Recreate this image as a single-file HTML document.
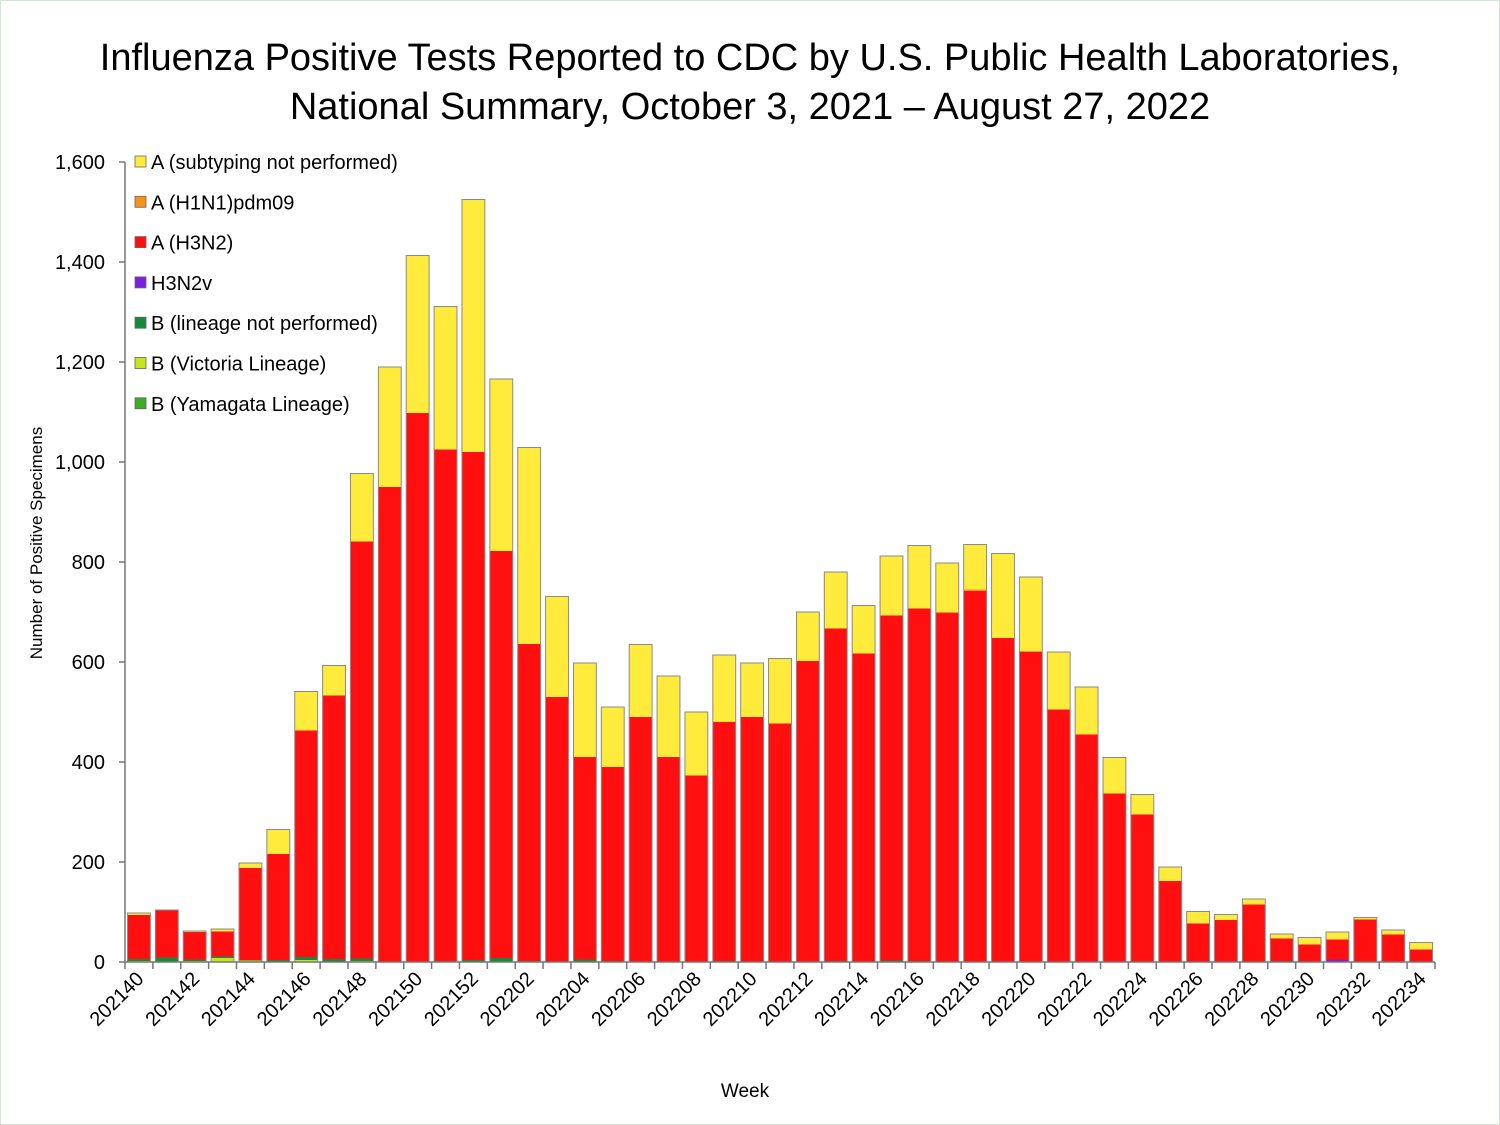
<!DOCTYPE html>
<html><head><meta charset="utf-8"><style>
body{margin:0;background:#fff;}
svg{display:block;font-family:"Liberation Sans",sans-serif;}
</style></head><body>
<svg id="chart" width="1500" height="1125" viewBox="0 0 1500 1125">
<rect x="0.5" y="0.5" width="1499" height="1124" fill="#fff" stroke="#cfe6cf"/>
<text x="750" y="70" text-anchor="middle" font-size="38">Influenza Positive Tests Reported to CDC by U.S. Public Health Laboratories,</text>
<text x="750" y="119" text-anchor="middle" font-size="38">National Summary, October 3, 2021 – August 27, 2022</text>
<text transform="translate(42,543) rotate(-90)" text-anchor="middle" font-size="17">Number of Positive Specimens</text>
<text x="745" y="1097" text-anchor="middle" font-size="19">Week</text>
<g id="plot"></g>
</svg>
<script>
const weeks=["202140","202141","202142","202143","202144","202145","202146","202147","202148","202149","202150","202151","202152","202201","202202","202203","202204","202205","202206","202207","202208","202209","202210","202211","202212","202213","202214","202215","202216","202217","202218","202219","202220","202221","202222","202223","202224","202225","202226","202227","202228","202229","202230","202231","202232","202233","202234"];
const bYamagata=[0,0,0,0,0,0,0,0,0,0,0,0,0,0,0,0,0,0,0,0,0,0,0,0,0,0,0,0,0,0,0,0,0,0,0,0,0,0,0,0,0,0,0,0,0,0,0];
const bVictoria=[2,1,2,8,3,1,4,1,2,0,0,0,0,0,0,0,0,0,0,0,0,0,0,0,0,0,0,0,0,0,0,0,0,0,0,0,0,0,0,0,0,0,0,0,0,0,0];
const bLineage=[4,8,3,3,1,3,6,5,5,1,1,2,4,8,2,1,5,2,1,1,1,2,1,1,1,2,1,3,2,1,1,1,1,1,1,1,1,1,1,1,1,2,1,1,1,1,1];
const h3n2v=[0,0,0,0,0,0,0,0,0,0,0,0,0,0,0,0,0,0,0,0,0,0,0,0,0,0,0,0,0,0,0,0,0,0,0,0,0,0,0,0,0,0,0,4,0,0,0];
const h3n2=[88,95,55,50,184,212,453,527,834,949,1097,1023,1016,814,634,529,405,388,489,409,372,478,489,476,601,665,616,690,705,697,741,647,619,504,454,336,294,161,76,83,114,45,34,40,84,54,24];
const h1n1=[0,0,0,0,0,0,0,0,0,0,0,0,0,0,0,0,0,0,0,0,0,0,0,0,0,0,0,0,0,2,3,0,2,0,0,0,0,0,0,0,0,0,0,0,0,0,0];
const aUnsub=[4,0,2,5,10,49,78,60,136,240,315,286,505,344,393,201,188,120,145,162,127,134,108,130,98,113,96,119,126,98,90,169,148,115,95,72,40,28,24,11,11,9,14,15,4,9,14];
const yTicks=[0,200,400,600,800,1000,1200,1400,1600];
const series=[
 {name:"B (Yamagata Lineage)",vals:bYamagata,color:"#3faa2a"},
 {name:"B (Victoria Lineage)",vals:bVictoria,color:"#c6e51a"},
 {name:"B (lineage not performed)",vals:bLineage,color:"#168a3c"},
 {name:"H3N2v",vals:h3n2v,color:"#7b1fe0"},
 {name:"A (H3N2)",vals:h3n2,color:"#ff0f0f"},
 {name:"A (H1N1)pdm09",vals:h1n1,color:"#f7941d"},
 {name:"A (subtyping not performed)",vals:aUnsub,color:"#ffeb3b"}
];
const NS="http://www.w3.org/2000/svg";
const g=document.getElementById("plot");
const x0=125,x1=1435,y0=962,yMax=1600,yTop=162;
const step=(x1-x0)/weeks.length;
const yS=v=>y0-v/yMax*(y0-yTop);
const xS=i=>x0+i*step;
function mk(tag,attrs){const e=document.createElementNS(NS,tag);for(const k in attrs)e.setAttribute(k,attrs[k]);g.appendChild(e);return e;}
// axes
let ax=mk("line",{x1:x0,y1:yTop,x2:x0,y2:y0,stroke:"#777","stroke-width":1.5});


yTicks.forEach(t=>{
 const tl=mk("line",{x1:x0-6,y1:yS(t),x2:x0,y2:yS(t),stroke:"#777","stroke-width":1.5});
 
 
 const tx=mk("text",{x:x0-20,y:yS(t)+7,"text-anchor":"end","font-size":20});
 tx.textContent=t.toLocaleString("en-US");
 
 
});
// bars
weeks.forEach((w,i)=>{
 let cum=0;
 const bx=xS(i)+2.5,bw=step-5;
 series.forEach(s=>{
  const v=s.vals[i];
  if(v>0){
   const r=mk("rect",{x:bx,y:yS(cum+v),width:bw,height:yS(cum)-yS(cum+v),fill:s.color});
   
   
  }
  cum+=v;
 });
 const o=mk("rect",{x:bx,y:yS(cum),width:bw,height:y0-yS(cum),fill:"none",stroke:"#8a8a8a","stroke-width":1});
 
 
});
let xa=mk("line",{x1:x0,y1:y0,x2:x1,y2:y0,stroke:"#777","stroke-width":1.5});


for(let i=0;i<=weeks.length;i++){
 const tk=mk("line",{x1:xS(i),y1:y0,x2:xS(i),y2:y0+7,stroke:"#777","stroke-width":1.5});
 
 
}
weeks.forEach((w,i)=>{
 if(i%2) return;
 const cx=xS(i)+step/2+6,cy=y0+18;
 const t=mk("text",{x:cx,y:cy,"text-anchor":"end","font-size":20,transform:`rotate(-45 ${cx} ${cy})`});
 t.textContent=w;
 
 
});
// legend
[...series].reverse().forEach((s,k)=>{
 const ly=162+k*40.3;
 const sq=mk("rect",{x:135,y:ly-6,width:11,height:11,fill:s.color,stroke:"#666","stroke-width":0.8});
 
 
 const tx=mk("text",{x:151,y:ly+7,"font-size":20});
 tx.textContent=s.name;
 
 
});
</script>
</body></html>
